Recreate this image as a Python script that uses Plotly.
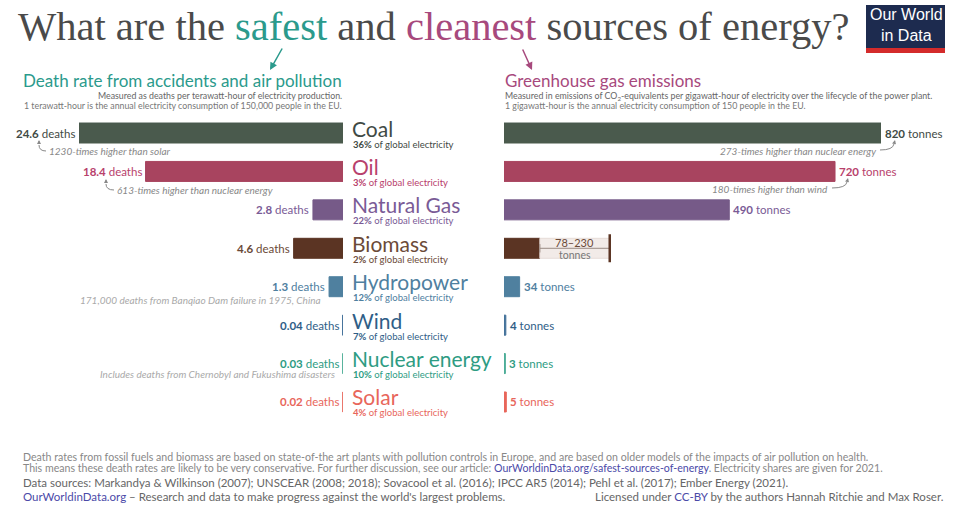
import plotly.graph_objects as go

W, H = 980, 511

# data
sources = ["Coal", "Oil", "Natural Gas", "Biomass", "Hydropower", "Wind", "Nuclear energy", "Solar"]
death_rates = [24.6, 18.4, 2.8, 4.6, 1.3, 0.04, 0.03, 0.02]
ghg_emissions = [820, 720, 490, 78, 34, 4, 3, 5]
biomass_ghg_range = [78, 230]
electricity_share = [36, 3, 22, 2, 12, 7, 10, 4]

bar_colors = ["#4a5a4d", "#a8445f", "#765a88", "#5b3423", "#4f809f", "#44729a", "#4fae98", "#e8665b"]
label_colors = ["#3f4a45", "#b8416c", "#7a5b96", "#6b4a38", "#4f809f", "#2f5e87", "#2e9c83", "#e8665b"]

TEAL = "#2b9a8c"
MAGENTA = "#a7497d"
LINK = "#4b4aa8"


def px(x):
    return x / W


def py(y):
    return 1 - y / H


fig = go.Figure()

# left: death rates (axis reversed so bars grow leftwards)
fig.add_trace(go.Bar(
    x=death_rates, y=sources, orientation="h", width=0.52,
    marker=dict(color=bar_colors, line=dict(color=bar_colors, width=1)),
    xaxis="x", yaxis="y", hoverinfo="x+y",
))

# right: greenhouse gas emissions
fig.add_trace(go.Bar(
    x=ghg_emissions, y=sources, orientation="h", width=0.52,
    marker=dict(color=bar_colors, line=dict(color=bar_colors, width=1)),
    xaxis="x2", yaxis="y", hoverinfo="x+y",
))

# biomass range 78-230
fig.add_trace(go.Bar(
    x=[biomass_ghg_range[1] - biomass_ghg_range[0]], base=[biomass_ghg_range[0]],
    y=["Biomass"], orientation="h", width=0.52,
    marker=dict(color="#f2ebe8", line=dict(color="#e6dcd8", width=1)),
    xaxis="x2", yaxis="y", hoverinfo="skip",
))
fig.add_trace(go.Scatter(
    x=biomass_ghg_range, y=["Biomass", "Biomass"], mode="lines+markers",
    line=dict(color="#9a8a84", width=1),
    marker=dict(symbol="line-ns", size=6, line=dict(color="#9a8a84", width=1)),
    xaxis="x2", yaxis="y", hoverinfo="skip",
))
fig.add_trace(go.Scatter(
    x=[biomass_ghg_range[1]], y=["Biomass"], mode="markers",
    marker=dict(symbol="line-ns", size=20, line=dict(color=bar_colors[3], width=2.5)),
    xaxis="x2", yaxis="y", hoverinfo="skip",
))

ann = []

# title
ann.append(dict(
    x=px(16), y=py(26), xref="paper", yref="paper", xanchor="left", yanchor="middle",
    text=("What are the <span style='color:" + TEAL + "'>safest</span> and "
          "<span style='color:" + MAGENTA + "'>cleanest</span> sources of energy?"),
    font=dict(family="Liberation Serif", size=40.5, color="#4a4a4a"), showarrow=False,
))
# title arrows
ann.append(dict(x=px(270), y=py(70), xref="paper", yref="paper", text="", showarrow=True,
                ax=13, ay=-23, arrowhead=2, arrowsize=1, arrowwidth=1.5, arrowcolor=TEAL))
ann.append(dict(x=px(532), y=py(70), xref="paper", yref="paper", text="", showarrow=True,
                ax=-10, ay=-22, arrowhead=2, arrowsize=1, arrowwidth=1.5, arrowcolor=MAGENTA))

# logo text
ann.append(dict(x=px(906), y=py(25), xref="paper", yref="paper", xanchor="center", yanchor="middle",
                text="Our World<br>in Data", showarrow=False,
                font=dict(family="Liberation Sans", size=16, color="white")))

# section headers
ann.append(dict(x=px(344), y=py(81), xref="paper", yref="paper", xanchor="right", yanchor="middle",
                text="Death rate from accidents and air pollution", showarrow=False,
                font=dict(family="Lato", size=17, color=TEAL)))
ann.append(dict(x=px(344), y=py(95.5), xref="paper", yref="paper", xanchor="right", yanchor="middle",
                text="Measured as deaths per terawatt-hour of electricity production.", showarrow=False,
                font=dict(family="Lato", size=8.8, color="#666")))
ann.append(dict(x=px(344), y=py(105.5), xref="paper", yref="paper", xanchor="right", yanchor="middle",
                text="1 terawatt-hour is the annual electricity consumption of 150,000 people in the EU.",
                showarrow=False, font=dict(family="Lato", size=8.8, color="#777")))
ann.append(dict(x=px(503), y=py(81), xref="paper", yref="paper", xanchor="left", yanchor="middle",
                text="Greenhouse gas emissions", showarrow=False,
                font=dict(family="Lato", size=17, color=MAGENTA)))
ann.append(dict(x=px(503), y=py(95.5), xref="paper", yref="paper", xanchor="left", yanchor="middle",
                text=("Measured in emissions of CO<sub>2</sub>-equivalents per gigawatt-hour of electricity "
                      "over the lifecycle of the power plant."), showarrow=False,
                font=dict(family="Lato", size=8.8, color="#666")))
ann.append(dict(x=px(503), y=py(105.5), xref="paper", yref="paper", xanchor="left", yanchor="middle",
                text="1 gigawatt-hour is the annual electricity consumption of 150 people in the EU.",
                showarrow=False, font=dict(family="Lato", size=8.8, color="#777")))

# per-source labels
for i, src in enumerate(sources):
    col = label_colors[i]
    ann.append(dict(x=px(350), y=src, xref="paper", yref="y", xanchor="left", yanchor="middle",
                    yshift=5, text=src, showarrow=False,
                    font=dict(family="Lato", size=21, color=col)))
    ann.append(dict(x=px(351), y=src, xref="paper", yref="y", xanchor="left", yanchor="middle",
                    yshift=-11, text="<b>%d%%</b> of global electricity" % electricity_share[i],
                    showarrow=False, font=dict(family="Lato", size=9.5, color=col)))
    ann.append(dict(x=death_rates[i], y=src, xref="x", yref="y", xanchor="right", yanchor="middle",
                    xshift=-2, text="<b>%s</b> deaths" % death_rates[i], showarrow=False,
                    font=dict(family="Lato", size=11.5, color=col)))
    if src != "Biomass":
        ann.append(dict(x=ghg_emissions[i], y=src, xref="x2", yref="y", xanchor="left", yanchor="middle",
                        xshift=2, text="<b>%d</b> tonnes" % ghg_emissions[i], showarrow=False,
                        font=dict(family="Lato", size=11.5, color=col)))

# biomass range label
mid = (biomass_ghg_range[0] + biomass_ghg_range[1]) / 2
ann.append(dict(x=mid, y="Biomass", xref="x2", yref="y", yshift=6, showarrow=False,
                text="%d–%d" % tuple(biomass_ghg_range),
                font=dict(family="Lato", size=11, color="#6b4a38")))
ann.append(dict(x=mid, y="Biomass", xref="x2", yref="y", yshift=-7, showarrow=False,
                text="tonnes", font=dict(family="Lato", size=10.5, color="#777")))

# notes
notes = [
    (47, 151, "left", "1230-times higher than solar", "#888"),
    (115, 190, "left", "613-times higher than nuclear energy", "#888"),
    (878, 151, "right", "273-times higher than nuclear energy", "#888"),
    (830, 189, "right", "180-times higher than wind", "#888"),
    (323, 300, "right", "171,000 deaths from Banqiao Dam failure in 1975, China", "#aaa"),
    (337, 374, "right", "Includes deaths from Chernobyl and Fukushima disasters", "#aaa"),
]
for x, y, anchor, txt, col in notes:
    ann.append(dict(x=px(x), y=py(y), xref="paper", yref="paper", xanchor=anchor, yanchor="middle",
                    text="<i>%s</i>" % txt, showarrow=False,
                    font=dict(family="Lato", size=10, color=col)))

# hook arrows next to the notes
hooks = [
    ((46, 151), (39, 151), (39, 145), (39, 140)),
    ((114, 190), (106, 190), (106, 184), (106, 179)),
    ((880, 150), (893, 150), (894, 144), (895, 140)),
    ((832, 188), (846, 188), (847, 182), (848, 178)),
]
shapes = []
for p0, c, p1, head in hooks:
    path = "M %f %f Q %f %f %f %f" % (px(p0[0]), py(p0[1]), px(c[0]), py(c[1]), px(p1[0]), py(p1[1]))
    shapes.append(dict(type="path", path=path, xref="paper", yref="paper",
                       line=dict(color="#888", width=1)))
    ann.append(dict(x=px(head[0]), y=py(head[1]), xref="paper", yref="paper", text="", showarrow=True,
                    ax=p1[0] - head[0], ay=p1[1] - head[1], arrowhead=2, arrowsize=0.8,
                    arrowwidth=1, arrowcolor="#888"))

# logo box
shapes.append(dict(type="rect", xref="paper", yref="paper", x0=px(866), x1=px(945), y0=py(48), y1=py(5),
                   fillcolor="#1d2b4f", line=dict(width=0)))
shapes.append(dict(type="rect", xref="paper", yref="paper", x0=px(866), x1=px(945), y0=py(53), y1=py(48),
                   fillcolor="#d42b2b", line=dict(width=0)))

# footer
footer = [
    (457, 10.6, "#888",
     "Death rates from fossil fuels and biomass are based on state-of-the art plants with pollution controls "
     "in Europe, and are based on older models of the impacts of air pollution on health."),
    (468, 10.6, "#888",
     "This means these death rates are likely to be very conservative. For further discussion, see our article: "
     "<span style='color:" + LINK + "'>OurWorldinData.org/safest-sources-of-energy</span>. "
     "Electricity shares are given for 2021."),
    (482, 11.5, "#666",
     "Data sources: Markandya &amp; Wilkinson (2007); UNSCEAR (2008; 2018); Sovacool et al. (2016); "
     "IPCC AR5 (2014); Pehl et al. (2017); Ember Energy (2021)."),
    (496, 11.5, "#666",
     "<span style='color:" + LINK + "'>OurWorldinData.org</span> – Research and data to make progress "
     "against the world's largest problems."),
]
for y, size, col, txt in footer:
    ann.append(dict(x=px(21), y=py(y), xref="paper", yref="paper", xanchor="left", yanchor="middle",
                    text=txt, showarrow=False, font=dict(family="Lato", size=size, color=col)))
ann.append(dict(x=px(946), y=py(496), xref="paper", yref="paper", xanchor="right", yanchor="middle",
                text=("Licensed under <span style='color:" + LINK + "'>CC-BY</span> by the authors "
                      "Hannah Ritchie and Max Roser."), showarrow=False,
                font=dict(family="Lato", size=11.5, color="#666")))

row_h = 38.4
y_top = 133 - row_h / 2
y_bot = 402 + row_h / 2

fig.update_layout(
    width=W, height=H,
    margin=dict(l=0, r=0, t=0, b=0),
    paper_bgcolor="white", plot_bgcolor="rgba(0,0,0,0)",
    barmode="overlay", showlegend=False,
    xaxis=dict(domain=[px(79), px(343)], range=[death_rates[0], 0], visible=False, fixedrange=True),
    xaxis2=dict(domain=[px(504), px(881)], range=[0, ghg_emissions[0]],
                visible=False, anchor="y", fixedrange=True),
    yaxis=dict(domain=[py(y_bot), py(y_top)], range=[len(sources) - 0.5, -0.5], visible=False,
               categoryorder="array", categoryarray=sources, fixedrange=True),
    annotations=ann,
    shapes=shapes,
    font=dict(family="Lato"),
)

# drop the browser's default body margin so the 980x511 figure fills the window
fig.write_html("out.html", config={"displayModeBar": False},
               post_script="document.body.style.margin = '0px';")
